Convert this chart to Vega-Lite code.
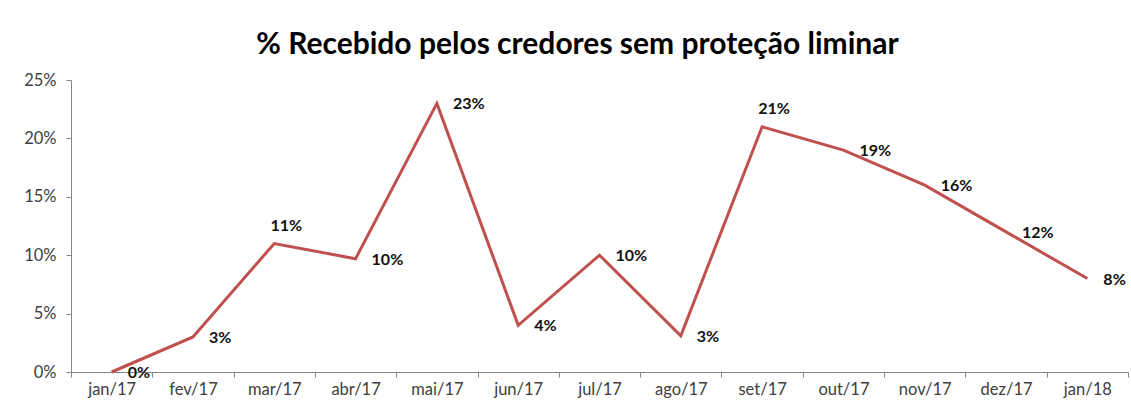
{
  "$schema": "https://vega.github.io/schema/vega-lite/v6.json",
  "autosize": {"type": "none"},
  "width": 1057,
  "height": 292,
  "padding": {"left": 71, "top": 80, "right": 3, "bottom": 33},
  "background": "white",
  "title": {
    "text": "% Recebido pelos credores sem proteção liminar",
    "font": "Lato",
    "fontSize": 30,
    "fontWeight": "bold",
    "color": "#000000",
    "anchor": "middle",
    "frame": "group",
    "dx": -22,
    "offset": 12
  },
  "data": {
    "values": [
      {"mes": "jan/17", "valor": 0.0},
      {"mes": "fev/17", "valor": 0.03},
      {"mes": "mar/17", "valor": 0.11},
      {"mes": "abr/17", "valor": 0.097},
      {"mes": "mai/17", "valor": 0.23},
      {"mes": "jun/17", "valor": 0.04},
      {"mes": "jul/17", "valor": 0.10},
      {"mes": "ago/17", "valor": 0.031},
      {"mes": "set/17", "valor": 0.21},
      {"mes": "out/17", "valor": 0.19},
      {"mes": "nov/17", "valor": 0.16},
      {"mes": "dez/17", "valor": 0.12},
      {"mes": "jan/18", "valor": 0.08}
    ]
  },
  "encoding": {
    "x": {
      "field": "mes",
      "type": "nominal",
      "sort": null,
      "scale": {"type": "band", "paddingInner": 0, "paddingOuter": 0},
      "axis": {
        "title": null,
        "labelAngle": 0,
        "labelFont": "Lato",
        "labelFontSize": 16.5,
        "labelColor": "#404040",
        "labelPadding": 4,
        "tickBand": "extent",
        "tickSize": 5,
        "tickColor": "#868686",
        "domainColor": "#868686",
        "grid": false
      }
    },
    "y": {
      "field": "valor",
      "type": "quantitative",
      "scale": {"domain": [0, 0.25], "nice": false},
      "axis": {
        "title": null,
        "values": [0, 0.05, 0.1, 0.15, 0.2, 0.25],
        "format": ".0%",
        "labelFont": "Lato",
        "labelFontSize": 16.5,
        "labelColor": "#404040",
        "labelPadding": 10,
        "tickSize": 5,
        "tickColor": "#868686",
        "domainColor": "#868686",
        "grid": false
      }
    }
  },
  "layer": [
    {
      "mark": {"type": "line", "color": "#C0504D", "strokeWidth": 3}
    },
    {
      "transform": [{"filter": {"not": {"field": "mes", "oneOf": ["mar/17", "set/17"]}}}],
      "mark": {"type": "text", "align": "left", "baseline": "middle", "dx": 16, "dy": 1, "font": "Lato", "fontSize": 16, "fontWeight": "bold", "color": "#111111"},
      "encoding": {"text": {"field": "valor", "type": "quantitative", "format": ".0%"}}
    },
    {
      "transform": [{"filter": {"field": "mes", "oneOf": ["mar/17", "set/17"]}}],
      "mark": {"type": "text", "align": "center", "baseline": "middle", "dx": 12, "dy": -18, "font": "Lato", "fontSize": 16, "fontWeight": "bold", "color": "#111111"},
      "encoding": {"text": {"field": "valor", "type": "quantitative", "format": ".0%"}}
    }
  ],
  "config": {"view": {"stroke": null}}
}
